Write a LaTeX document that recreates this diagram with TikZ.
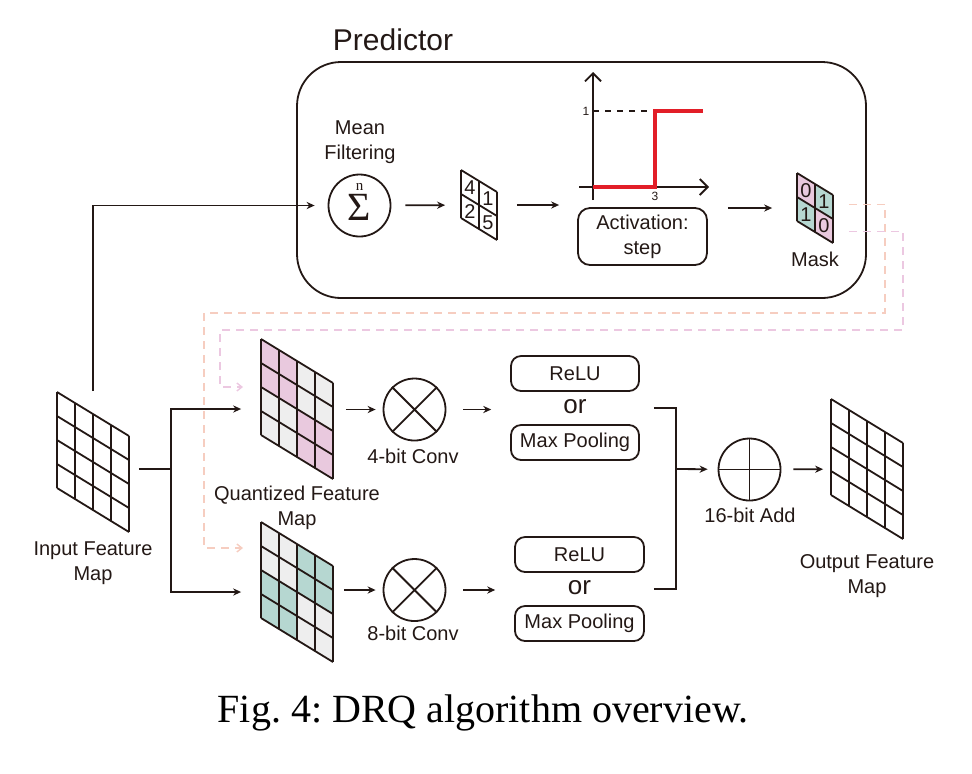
\documentclass[tikz,border=0pt]{standalone}
\usepackage{fontspec}
\setmainfont{Liberation Sans}
\newfontfamily\serif{Liberation Serif}
\usetikzlibrary{arrows.meta,positioning,fit}

\definecolor{ink}{RGB}{35,24,21}
\definecolor{pinkc}{RGB}{233,201,222}
\definecolor{tealc}{RGB}{182,215,209}
\definecolor{grayc}{RGB}{238,238,238}
\definecolor{peach}{RGB}{246,205,192}
\definecolor{lilac}{RGB}{236,200,225}
\definecolor{stepred}{RGB}{226,30,40}

\newcommand{\labfont}{\fontsize{10}{12.5}\selectfont}

% feature map: name, top left corner, cells per side, cell colours, cell texts
\newcommand{\fmap}[5]{
  \begin{scope}[shift={#2}, x={(9pt,-5.5pt)}, y={(0pt,-12pt)}]
    \foreach \c [count=\k from 0] in {#4} {
      \pgfmathtruncatemacro\ci{mod(\k,#3)}
      \pgfmathtruncatemacro\cj{div(\k,#3)}
      \fill[\c] (\ci,\cj) -- ++(1,0) -- ++(0,1) -- ++(-1,0) -- cycle;
    }
    \if\relax\detokenize{#5}\relax\else
      \foreach \t [count=\k from 0] in {#5} {
        \pgfmathtruncatemacro\ci{mod(\k,#3)}
        \pgfmathtruncatemacro\cj{div(\k,#3)}
        \node[inner sep=0pt] at (\ci+0.5,\cj+0.5) {\t};
      }
    \fi
    \foreach \i in {0,...,#3} {
      \draw (\i,0) -- (\i,#3);
      \draw (0,\i) -- (#3,\i);
    }
    \node[inner sep=0pt, minimum width=#3*9pt, minimum height=#3*17.5pt] (#1) at (#3/2,#3/2) {};
  \end{scope}}

\begin{document}
\begin{tikzpicture}[x=0.5pt, y=-0.5pt, line width=0.9pt, color=ink, font=\labfont,
  arr/.style={-{Stealth[length=4pt,width=3.6pt]}},
  darr/.style={-{Straight Barb[length=2.5pt,width=4pt]}},
  box/.style={draw, rounded corners=5pt, minimum width=64pt, minimum height=17.5pt, inner sep=0pt},
  op/.style={draw, circle, minimum size=31pt, inner sep=0pt},
  lab/.style={align=center, inner sep=0pt},
  pdash/.style={dash pattern=on 4pt off 3pt, line width=0.7pt}]
  \useasboundingbox (0,0) rectangle (972,773);

  % predictor
  \node[font=\fontsize{15}{18}\selectfont, inner sep=0pt] (title) at (393,40) {Predictor};
  \draw[rounded corners=22pt] (297,62) rectangle (866,298);

  \node[op] (sum) at (359.5,205.5) {};
  \node[lab, font=\serif\fontsize{20}{15}\selectfont] (sigma) at (359.5,202)
    {{\fontsize{7.5}{15}\selectfont n}\\Σ};
  \node[lab] (mflab) at (360,142) {Mean\\Filtering};
  \fmap{avg}{(461,170)}{2}{white}{4,1,2,5}

  % step function
  \draw[-{Straight Barb[length=4pt,width=8pt]}] (593,200) -- (593,72);
  \draw[-{Straight Barb[length=4pt,width=8pt]}] (579,187) -- (709,187);
  \draw[dash pattern=on 3pt off 3pt, line width=0.7pt] (593,111) -- (655,111);
  \draw[stepred, line width=2pt] (593,187) -- (655,187) -- (655,111) -- (703,111);
  \node[font=\fontsize{6}{6}\selectfont, inner sep=0pt] (one) at (586,111) {1};
  \node[font=\fontsize{6}{6}\selectfont, inner sep=0pt] (three) at (655,196) {3};
  \node[box, minimum width=64.5pt, minimum height=28.5pt, rounded corners=6pt, align=center] (actbox) at (642.5,236.5) {Activation:\\step};

  \fmap{mask}{(797,173)}{2}{pinkc,tealc,tealc,pinkc}{0,1,1,0}
  \node[lab] (masklab) at (815,259) {Mask};

  \draw[arr, shorten <=7pt, shorten >=7.5pt] (sum) -- (avg);
  \draw[arr, shorten <=9.5pt, shorten >=9pt] (avg) -- (avg -| actbox.west);
  \draw[arr, shorten <=10pt, shorten >=12pt] (mask -| actbox.east) -- (mask);

  % feature maps
  \fmap{inmap}{(57,392)}{4}{white}{}
  \node[lab] (inlab) at (93,563) {Input Feature\\Map};
  \fmap{qmap4}{(261,339)}{4}{pinkc,pinkc,grayc,grayc,pinkc,pinkc,grayc,grayc,grayc,grayc,pinkc,pinkc,grayc,grayc,pinkc,pinkc}{}
  \fmap{qmap8}{(261,522)}{4}{grayc,grayc,tealc,tealc,grayc,grayc,tealc,tealc,tealc,tealc,grayc,grayc,tealc,tealc,grayc,grayc}{}
  \node[lab] (qlab) at (297,508) {Quantized Feature\\Map};
  \fmap{outmap}{(831,399)}{4}{white}{}
  \node[lab] (outlab) at (867,576) {Output Feature\\Map};

  % convolutions
  \node[op] (conv4) at (414.5,409.5) {};
  \node[op] (conv8) at (414.5,590) {};
  \draw (conv4.north west) -- (conv4.south east) (conv4.north east) -- (conv4.south west);
  \draw (conv8.north west) -- (conv8.south east) (conv8.north east) -- (conv8.south west);
  \node[lab] (c4lab) at (413,456) {4-bit Conv};
  \node[lab] (c8lab) at (413,633) {8-bit Conv};

  \node[box] (relu4) at (575,373.5) {ReLU};
  \node[font=\fontsize{13}{13}\selectfont, inner sep=0pt] (or4) at (575,407) {or};
  \node[box] (pool4) at (575,442.5) {Max Pooling};
  \node[box, minimum width=64.5pt] (relu8) at (579.5,554.5) {ReLU};
  \node[font=\fontsize{13}{13}\selectfont, inner sep=0pt] (or8) at (579.5,588) {or};
  \node[box, minimum width=64.5pt] (pool8) at (579.5,623.5) {Max Pooling};
  \node[fit=(relu4)(pool4), inner sep=0pt] (act4) {};
  \node[fit=(relu8)(pool8), inner sep=0pt] (act8) {};

  \node[op] (add) at (749.5,469.5) {};
  \draw (add.north) -- (add.south) (add.west) -- (add.east);
  \node[lab] (addlab) at (750,515) {16-bit Add};

  % connectors
  \draw[arr, shorten >=6.5pt] (inmap.north) |- (sum);
  \coordinate (split) at (171,469);
  \draw[shorten <=4.5pt] (split -| inmap.east) -- (split);
  \draw[arr, shorten >=9.5pt] (split) |- (qmap4);
  \draw[arr, shorten >=9.5pt] (split) |- (qmap8);
  \draw[arr, shorten <=6pt, shorten >=3.5pt] (qmap4.east |- conv4) -- (conv4);
  \draw[arr, shorten <=5pt, shorten >=3.5pt] (qmap8.east |- conv8) -- (conv8);
  \draw[arr, shorten <=8.5pt, shorten >=9pt] (conv4) -- (conv4 -| act4.west);
  \draw[arr, shorten <=8.5pt, shorten >=9pt] (conv8) -- (conv8 -| act8.west);
  \coordinate (merge) at (676,469);
  \draw[shorten <=6.5pt] (act4.east) -| (merge);
  \draw[shorten <=4pt] (act8.east) -| (merge);
  \draw[arr, shorten >=5pt] (merge) -- (add);
  \draw[arr, shorten <=6pt, shorten >=3.5pt] (add) -- (outmap);

  % mask routes
  \coordinate (in4) at (243,387);
  \coordinate (in8) at (243,548);
  \draw[pdash, peach, darr] ([xshift=7.5pt,yshift=1.75pt]mask.east) -| (885,313) -| (204,548) -- (in8);
  \draw[pdash, lilac, darr] ([xshift=7.5pt,yshift=-11.75pt]mask.east) -| (903,330) -| (220,387) -- (in4);

  \node[font=\serif\fontsize{20}{24}\selectfont\frenchspacing, anchor=base, text=black] (cap) at (483,722) {Fig. 4: DRQ algorithm overview.};
\end{tikzpicture}
\end{document}
